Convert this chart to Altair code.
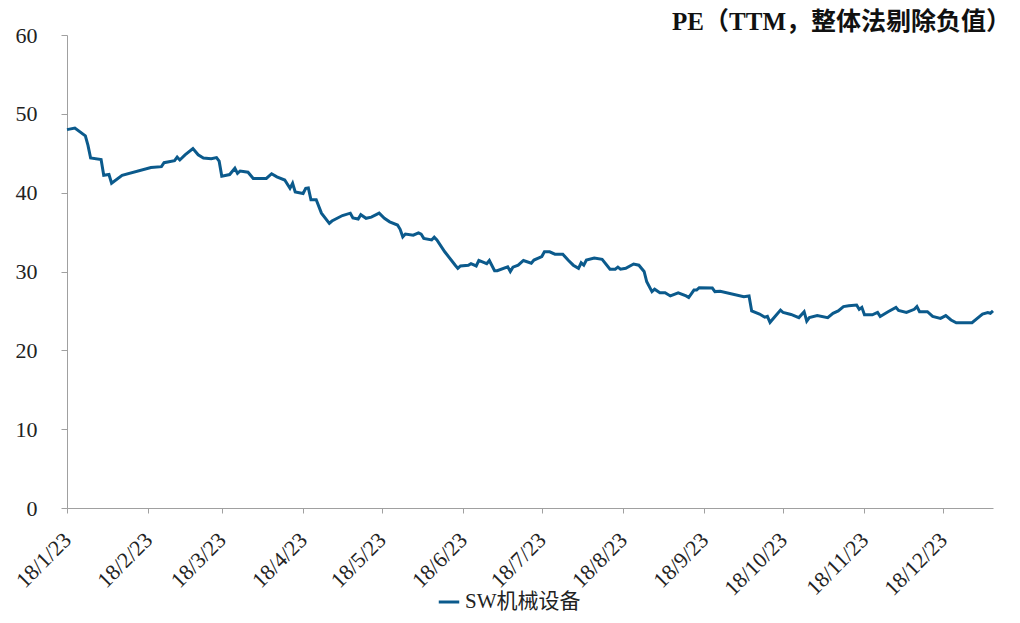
import altair as alt
import pandas as pd

# day offsets from 2018-01-23 and PE values
day_offsets = [0, 3, 7, 8, 9, 13, 14, 16, 17, 21, 32, 36, 37, 41, 42, 43, 45, 48, 50, 52, 55, 57, 58,
               59, 62, 64, 65, 66, 69, 71, 76, 78, 80, 83, 85, 86, 87, 90, 91, 92, 93, 95, 97, 100,
               101, 105, 108, 109, 111, 112, 114, 116, 119, 121, 123, 126, 127, 128, 129, 132, 134,
               135, 136, 139, 140, 141, 144, 148, 149, 150, 153, 154, 156, 157, 160, 161, 163, 164,
               168, 169, 170, 172, 174, 177, 178, 181, 182, 184, 186, 189, 191, 193, 195, 196, 197,
               198, 201, 204, 207, 209, 210, 211, 213, 216, 218, 220, 221, 223, 224, 226, 228, 230,
               233, 236, 237, 239, 240, 241, 246, 247, 249, 258, 260, 261, 264, 266, 267, 268, 272,
               273, 276, 279, 281, 282, 283, 286, 290, 292, 294, 296, 298, 301, 302, 303, 304, 307,
               309, 310, 313, 316, 317, 320, 323, 324, 325, 328, 330, 333, 335, 337, 339, 345, 347,
               349, 351, 352, 353]
pe_values = [48.0, 48.2, 47.2, 46.0, 44.4, 44.2, 42.2, 42.3, 41.2, 42.2, 43.2, 43.3, 43.8, 44.05, 44.5,
             44.15, 44.8, 45.6, 44.8, 44.4, 44.3, 44.45, 44.0,
             42.1, 42.3, 43.1, 42.45, 42.75, 42.6, 41.8, 41.8, 42.4, 42.0, 41.6, 40.55, 41.2, 40.1,
             39.9, 40.55, 40.6, 39.1, 39.1, 37.4, 36.1,
             36.4, 37.1, 37.4, 36.8, 36.65, 37.2, 36.75, 36.9, 37.4, 36.75, 36.3, 35.9, 35.35, 34.4,
             34.75, 34.6, 34.9,
             34.75, 34.2, 34.0, 34.35, 34.0, 32.5, 30.8, 30.4, 30.7, 30.8, 31.0, 30.7, 31.4, 31.0,
             31.4, 30.1, 30.1,
             30.6, 30.0, 30.55, 30.8, 31.4, 31.05, 31.45, 31.9, 32.5, 32.5, 32.2, 32.2, 31.45, 30.8,
             30.4, 31.1, 30.8,
             31.45, 31.7, 31.55, 30.3, 30.3, 30.55, 30.3, 30.4, 30.95, 30.8, 30.0, 28.7, 27.45, 27.75,
             27.3, 27.3, 26.9,
             27.3, 26.9, 26.7, 27.65, 27.65, 27.95, 27.9, 27.45, 27.5, 26.8, 26.9, 25.0, 24.6, 24.2,
             24.3, 23.55, 25.1,
             24.8, 24.55, 24.15, 24.9, 23.7, 24.15, 24.4, 24.15, 24.7, 25.0, 25.55, 25.65, 25.75, 25.2,
             25.45, 24.5, 24.5,
             24.8, 24.3, 24.9, 25.45, 25.05, 24.8, 25.2, 25.55, 24.9, 24.9, 24.3, 24.05, 24.4, 23.85,
             23.5, 23.5, 24.05,
             24.6, 24.8, 24.7, 25.0]
series_name = "SW机械设备"
title_text = "PE（TTM，整体法剔除负值）"
tick_months = [1, 2, 3, 4, 5, 6, 7, 8, 9, 10, 11, 12]

start = pd.Timestamp("2018-01-23")
df = pd.DataFrame({
    "date": [(start + pd.Timedelta(days=d)).strftime("%Y-%m-%d") for d in day_offsets],
    "pe": pe_values,
    "series": series_name,
})

FONT = "Liberation Serif, Noto Sans CJK SC"
line_color = "#0B5A8C"

chart = alt.Chart(df).mark_line(strokeWidth=3, color=line_color).encode(
    x=alt.X("date:T",
            scale=alt.Scale(type="utc",
                            domain=[alt.DateTime(year=2018, month=1, date=23, utc=True),
                                    alt.DateTime(year=2019, month=1, date=11, utc=True)]),
            axis=alt.Axis(title=None,
                          values=[alt.DateTime(year=2018, month=m, date=23, utc=True) for m in tick_months],
                          format="%y/%-m/%d", labelAngle=-45, labelAlign="right",
                          labelBaseline="middle", labelPadding=23,
                          labelFontSize=22, labelFont=FONT, labelColor="#222222",
                          tickSize=5, tickColor="#A0A0A0", domainColor="#A0A0A0",
                          grid=False, labelOverlap=False)),
    y=alt.Y("pe:Q",
            scale=alt.Scale(domain=[0, 60], nice=False),
            axis=alt.Axis(title=None, values=[0, 10, 20, 30, 40, 50, 60],
                          labelFontSize=22, labelFont=FONT, labelColor="#222222",
                          tickSize=6, tickColor="#A0A0A0", domainColor="#A0A0A0",
                          grid=False, labelPadding=24)),
    color=alt.Color("series:N",
                    scale=alt.Scale(range=[line_color]),
                    legend=alt.Legend(title=None, orient="none", legendX=370, legendY=555,
                                      symbolType="stroke", symbolStrokeWidth=3, symbolSize=420,
                                      labelFont=FONT, labelFontSize=21, labelColor="#222222")),
).properties(
    width=926,
    height=473,
    padding={"left": 59, "top": 27, "right": 19, "bottom": 107},
    autosize=alt.AutoSizeParams(type="none"),
    title=alt.TitleParams(title_text, anchor="end", dx=12, dy=17, offset=6, font=FONT,
                          fontSize=25, fontWeight="bold", color="#111111"),
).configure_view(stroke=None)

chart.save("out.html", embed_options={"renderer": "svg", "actions": False})
